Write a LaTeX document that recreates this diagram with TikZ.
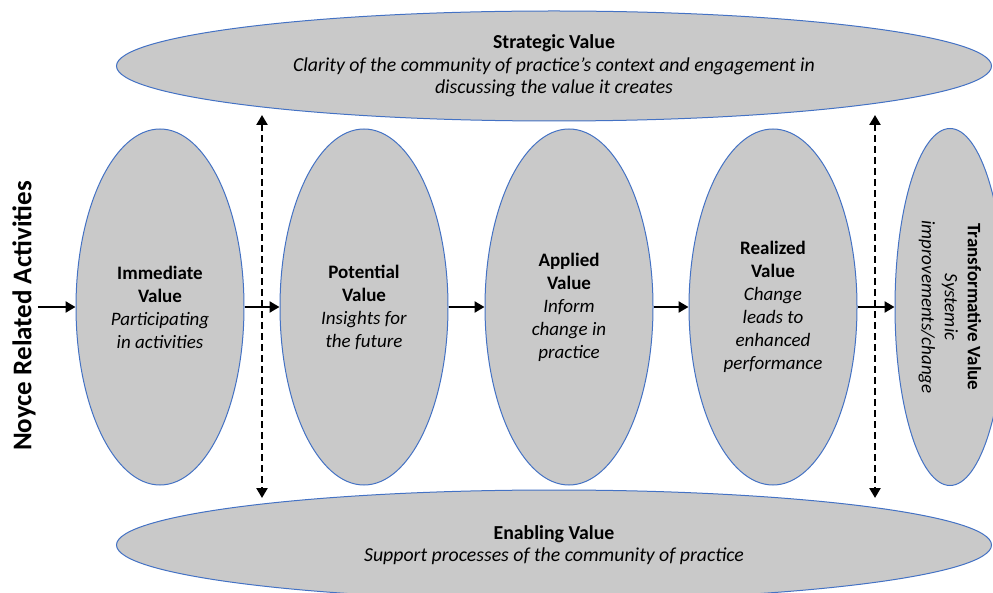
\documentclass[tikz,border=0pt]{standalone}
\usepackage{fontspec}
\setmainfont{Carlito}
\usetikzlibrary{arrows.meta,shapes.geometric}
\definecolor{ovalgray}{RGB}{201,201,201}
\definecolor{ovalblue}{RGB}{68,114,196}

\begin{document}
\begin{tikzpicture}[x=1pt,y=-1pt,
	oval/.style={ellipse,draw=ovalblue,line width=1pt,fill=ovalgray,inner sep=0pt,align=center,font=\fontsize{19}{23}\selectfont},
	stage/.style={oval,minimum width=168pt,minimum height=356pt},
	band/.style={oval,minimum width=875pt,minimum height=110pt,font=\fontsize{19.8}{22.5}\selectfont},
	flow/.style={line width=2.5pt,-{Triangle[length=10pt,width=11pt]}},
	link/.style={line width=2.4pt,dash pattern=on 7pt off 4pt,{Triangle[length=10pt,width=11pt]}-{Triangle[length=10pt,width=11pt]}}]
		%%%%% START %%%%%
		\useasboundingbox (0,0) rectangle (993,593);
		\clip (0,0) rectangle (993,593);
		
		\node[band] (strategic) at (554,66) {\textbf{Strategic Value}\\\textit{Clarity of the community of practice’s context and engagement in}\\\textit{discussing the value it creates}};
		\node[band] (enabling) at (554,545) {\textbf{Enabling Value}\\\textit{Support processes of the community of practice}};
		
		\node[stage] (immediate) at (160,307) {\textbf{Immediate}\\\textbf{Value}\\\textit{Participating}\\\textit{in activities}};
		\node[stage] (potential) at (364,307) {\textbf{Potential}\\\textbf{Value}\\\textit{Insights for}\\\textit{the future}};
		\node[stage] (applied) at (569,307) {\textbf{Applied}\\\textbf{Value}\\\textit{Inform}\\\textit{change in}\\\textit{practice}};
		\node[stage] (realized) at (773,307) {\textbf{Realized}\\\textbf{Value}\\\textit{Change}\\\textit{leads to}\\\textit{enhanced}\\\textit{performance}};
		\node[oval,rotate=-90,minimum width=357pt,minimum height=110pt] (transformative) at (950,307) {\textbf{Transformative Value}\\\textit{Systemic}\\\textit{improvements/change}};
		
		\node[rotate=90,font=\fontsize{27}{30}\selectfont\bfseries,inner sep=2pt] (noyce) at (24,316) {Noyce Related Activities};
		
		\coordinate (uplink1) at (262,115);
		\coordinate (downlink1) at (262,498);
		\coordinate (uplink2) at (875,115);
		\coordinate (downlink2) at (875,498);
		\draw[link] (uplink1) -- (downlink1);
		\draw[link] (uplink2) -- (downlink2);
		
		\draw[flow] (noyce.south |- immediate.west) -- (immediate.west);
		\draw[flow] (immediate.east) -- (potential.west);
		\draw[flow] (potential.east) -- (applied.west);
		\draw[flow] (applied.east) -- (realized.west);
		\draw[flow] (realized.east) -- (transformative.south);
		%%%%% END %%%%%
	\end{tikzpicture}
\end{document}
